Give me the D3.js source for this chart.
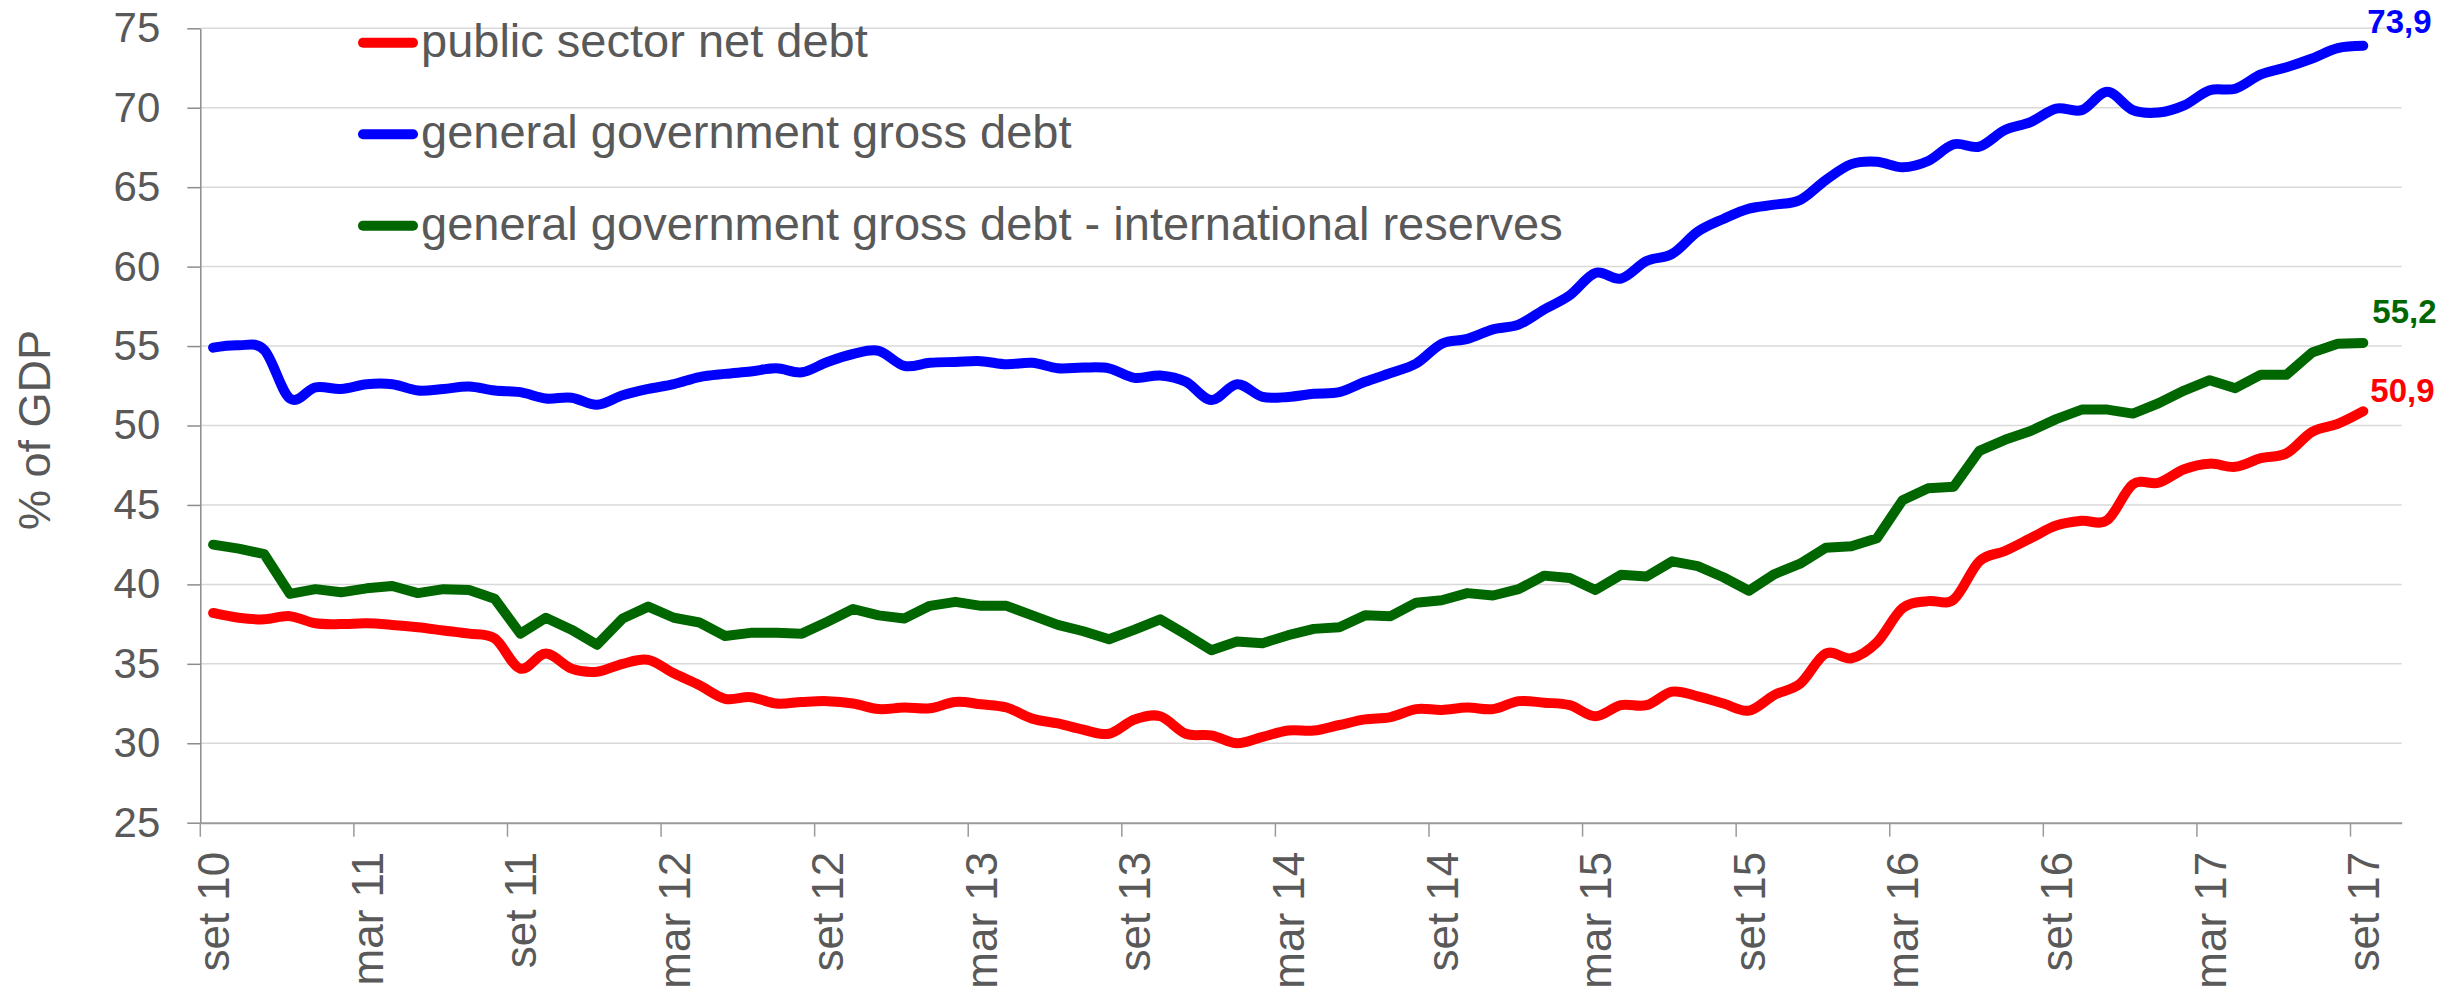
<!DOCTYPE html>
<html>
<head>
<meta charset="utf-8">
<script src="https://cdn.jsdelivr.net/npm/d3@7"></script>
<style>
  html, body { margin: 0; padding: 0; background: #ffffff; }
  svg { display: block; }
</style>
</head>
<body>
<svg id="chart" width="2461" height="995"></svg>
<script>
// Monthly observations, September 2010 to September 2017 (% of GDP).
const monthAbbr = ["jan", "fev", "mar", "abr", "mai", "jun", "jul", "ago", "set", "out", "nov", "dez"];

// Category axis: set 10 ... out 17 (the last slot is left empty).
const categories = d3.range(86).map(k => {
  const m = (8 + k) % 12;
  const yr = 10 + Math.floor((8 + k) / 12);
  return monthAbbr[m] + " " + yr;
});

const tickLabels = ["set 10", "mar 11", "set 11", "mar 12", "set 12", "mar 13", "set 13",
  "mar 14", "set 14", "mar 15", "set 15", "mar 16", "set 16", "mar 17", "set 17"];

const yTicks = [25, 30, 35, 40, 45, 50, 55, 60, 65, 70, 75];

const netDebt = [
  38.2, 37.9, 37.8, 38.0, 37.55, 37.5, 37.55, 37.45, 37.3, 37.1,
  36.9, 36.6, 34.7, 35.65, 34.7, 34.5, 35.0, 35.25, 34.4, 33.65,
  32.8, 32.9, 32.5, 32.6, 32.65, 32.5, 32.15, 32.25, 32.2, 32.6,
  32.45, 32.25, 31.55, 31.25, 30.85, 30.6, 31.5, 31.7, 30.6, 30.5,
  30.0, 30.4, 30.8, 30.8, 31.15, 31.5, 31.65, 32.15, 32.1, 32.25,
  32.15, 32.65, 32.55, 32.4, 31.7, 32.4, 32.4, 33.25, 32.95, 32.5,
  32.05, 33.05, 33.75, 35.65, 35.35, 36.35, 38.5, 38.95, 39.05, 41.45,
  42.1, 42.9, 43.7, 44.0, 44.05, 46.3, 46.4, 47.25, 47.6, 47.4,
  47.95, 48.25, 49.6, 50.1, 50.9
];

const grossDebt = [
  54.9, 55.05, 54.75, 51.7, 52.4, 52.3, 52.6, 52.6, 52.2, 52.3,
  52.45, 52.2, 52.1, 51.7, 51.75, 51.3, 51.9, 52.3, 52.6, 53.05,
  53.25, 53.4, 53.6, 53.35, 54.0, 54.5, 54.7, 53.75, 53.95, 54.0,
  54.05, 53.85, 53.95, 53.6, 53.65, 53.6, 53.0, 53.15, 52.75, 51.6,
  52.6, 51.8, 51.8, 52.0, 52.1, 52.75, 53.3, 53.9, 55.15, 55.45,
  56.05, 56.35, 57.3, 58.2, 59.6, 59.25, 60.35, 60.8, 62.2, 63.0,
  63.65, 63.9, 64.2, 65.45, 66.45, 66.6, 66.25, 66.65, 67.7, 67.55,
  68.6, 69.1, 69.95, 69.85, 71.0, 69.85, 69.7, 70.15, 71.1, 71.2,
  72.1, 72.55, 73.1, 73.75, 73.9
];

const grossDebtLessReserves = [
  42.5, 42.25, 41.9, 39.4, 39.7, 39.5, 39.75, 39.9, 39.45, 39.7,
  39.65, 39.1, 36.9, 37.9, 37.15, 36.2, 37.85, 38.6, 37.9, 37.6,
  36.75, 36.95, 36.95, 36.9, 37.65, 38.45, 38.05, 37.85, 38.65, 38.9,
  38.65, 38.65, 38.05, 37.45, 37.05, 36.55, 37.15, 37.8, 36.85, 35.85,
  36.4, 36.3, 36.8, 37.2, 37.3, 38.05, 38.0, 38.85, 39.0, 39.45,
  39.3, 39.7, 40.55, 40.4, 39.65, 40.6, 40.5, 41.45, 41.15, 40.45,
  39.6, 40.65, 41.3, 42.3, 42.4, 42.9, 45.3, 46.05, 46.15, 48.4,
  49.1, 49.65, 50.4, 51.0, 51.0, 50.75, 51.4, 52.2, 52.85, 52.35,
  53.2, 53.2, 54.6, 55.15, 55.2
];

const seriesNames = [
  "public sector net debt",
  "general government gross debt",
  "general government gross debt - international reserves"
];

// Drawing settings for each series (colour, smoothing, end-label offset).
const seriesStyle = [
  { color: "#ff0000", smooth: true,  labelDx: 7, labelDy: -9 },
  { color: "#0000ff", smooth: true,  labelDx: 4, labelDy: -13 },
  { color: "#006600", smooth: false, labelDx: 9, labelDy: -20 }
];
const seriesValues = [netDebt, grossDebt, grossDebtLessReserves];

const textColor = "#595959";
const font = "'Liberation Sans', Arial, sans-serif";

const plot = { left: 200.3, right: 2401.7, top: 28.3, bottom: 822.7 };

const svg = d3.select("#chart");
svg.append("rect").attr("width", 2461).attr("height", 995).attr("fill", "#ffffff");

const x = d3.scaleBand().domain(categories).range([plot.left, plot.right]).padding(0);
const y = d3.scaleLinear().domain([25, 75]).range([plot.bottom, plot.top]);
const bw = x.bandwidth();

// Horizontal gridlines
svg.append("g")
  .selectAll("line")
  .data(yTicks.filter(v => v > 25))
  .join("line")
  .attr("x1", plot.left).attr("x2", plot.right)
  .attr("y1", d => y(d)).attr("y2", d => y(d))
  .attr("stroke", "#d9d9d9").attr("stroke-width", 1.5);

// Y axis
const yAxis = svg.append("g")
  .attr("transform", `translate(${plot.left},0)`)
  .call(d3.axisLeft(y).tickValues(yTicks).tickSize(13).tickPadding(27).tickSizeOuter(0));
yAxis.select(".domain").attr("stroke", "#8c8c8c").attr("stroke-width", 1.5);
yAxis.selectAll(".tick line").attr("stroke", "#8c8c8c").attr("stroke-width", 1.5);
yAxis.selectAll(".tick text")
  .attr("fill", textColor).style("font-family", font).style("font-size", "42px");

// X axis: ticks on category boundaries, labels centred on the category
const xAxis = svg.append("g")
  .attr("transform", `translate(0,${plot.bottom})`)
  .call(d3.axisBottom(x).tickValues(tickLabels).tickSize(14).tickSizeOuter(0));
xAxis.select(".domain").attr("stroke", "#9a9a9a").attr("stroke-width", 2);
xAxis.selectAll(".tick line")
  .attr("x1", -bw / 2).attr("x2", -bw / 2)
  .attr("stroke", "#9a9a9a").attr("stroke-width", 1.5);
xAxis.selectAll(".tick text")
  .attr("transform", "rotate(-90)")
  .attr("x", -29).attr("y", 0).attr("dy", "0.36em")
  .attr("text-anchor", "end")
  .attr("fill", textColor).style("font-family", font).style("font-size", "44px");

// Y axis title
svg.append("text")
  .attr("transform", "translate(50,430) rotate(-90)")
  .attr("text-anchor", "middle")
  .attr("fill", textColor).style("font-family", font).style("font-size", "45px")
  .text("% of GDP");

// Series lines
const cx = i => x(categories[i]) + bw / 2;
seriesValues.forEach((vals, s) => {
  const st = seriesStyle[s];
  const line = d3.line()
    .x((d, i) => cx(i))
    .y(d => y(d))
    .curve(st.smooth ? d3.curveCardinal.tension(0) : d3.curveLinear);
  svg.append("path")
    .datum(vals)
    .attr("d", line)
    .attr("fill", "none")
    .attr("stroke", st.color)
    .attr("stroke-width", 10)
    .attr("stroke-linejoin", "round")
    .attr("stroke-linecap", "round");
});

// Latest-value labels
const fmt = v => d3.format(".1f")(v).replace(".", ",");
seriesValues.forEach((vals, s) => {
  const st = seriesStyle[s];
  const last = vals.length - 1;
  svg.append("text")
    .attr("x", cx(last) + st.labelDx)
    .attr("y", y(vals[last]) + st.labelDy)
    .attr("fill", st.color)
    .style("font-family", font).style("font-size", "33px").style("font-weight", "bold")
    .text(fmt(vals[last]));
});

// Legend
const legend = svg.append("g");
const legendY = [42.7, 134.2, 225.7];
seriesNames.forEach((name, s) => {
  const g = legend.append("g").attr("transform", `translate(0,${legendY[s]})`);
  g.append("line")
    .attr("x1", 363).attr("x2", 413).attr("y1", 0).attr("y2", 0)
    .attr("stroke", seriesStyle[s].color).attr("stroke-width", 10)
    .attr("stroke-linecap", "round");
  g.append("text")
    .attr("x", 421).attr("y", 14)
    .attr("fill", textColor).style("font-family", font).style("font-size", "47px")
    .text(name);
});
</script>
</body>
</html>
